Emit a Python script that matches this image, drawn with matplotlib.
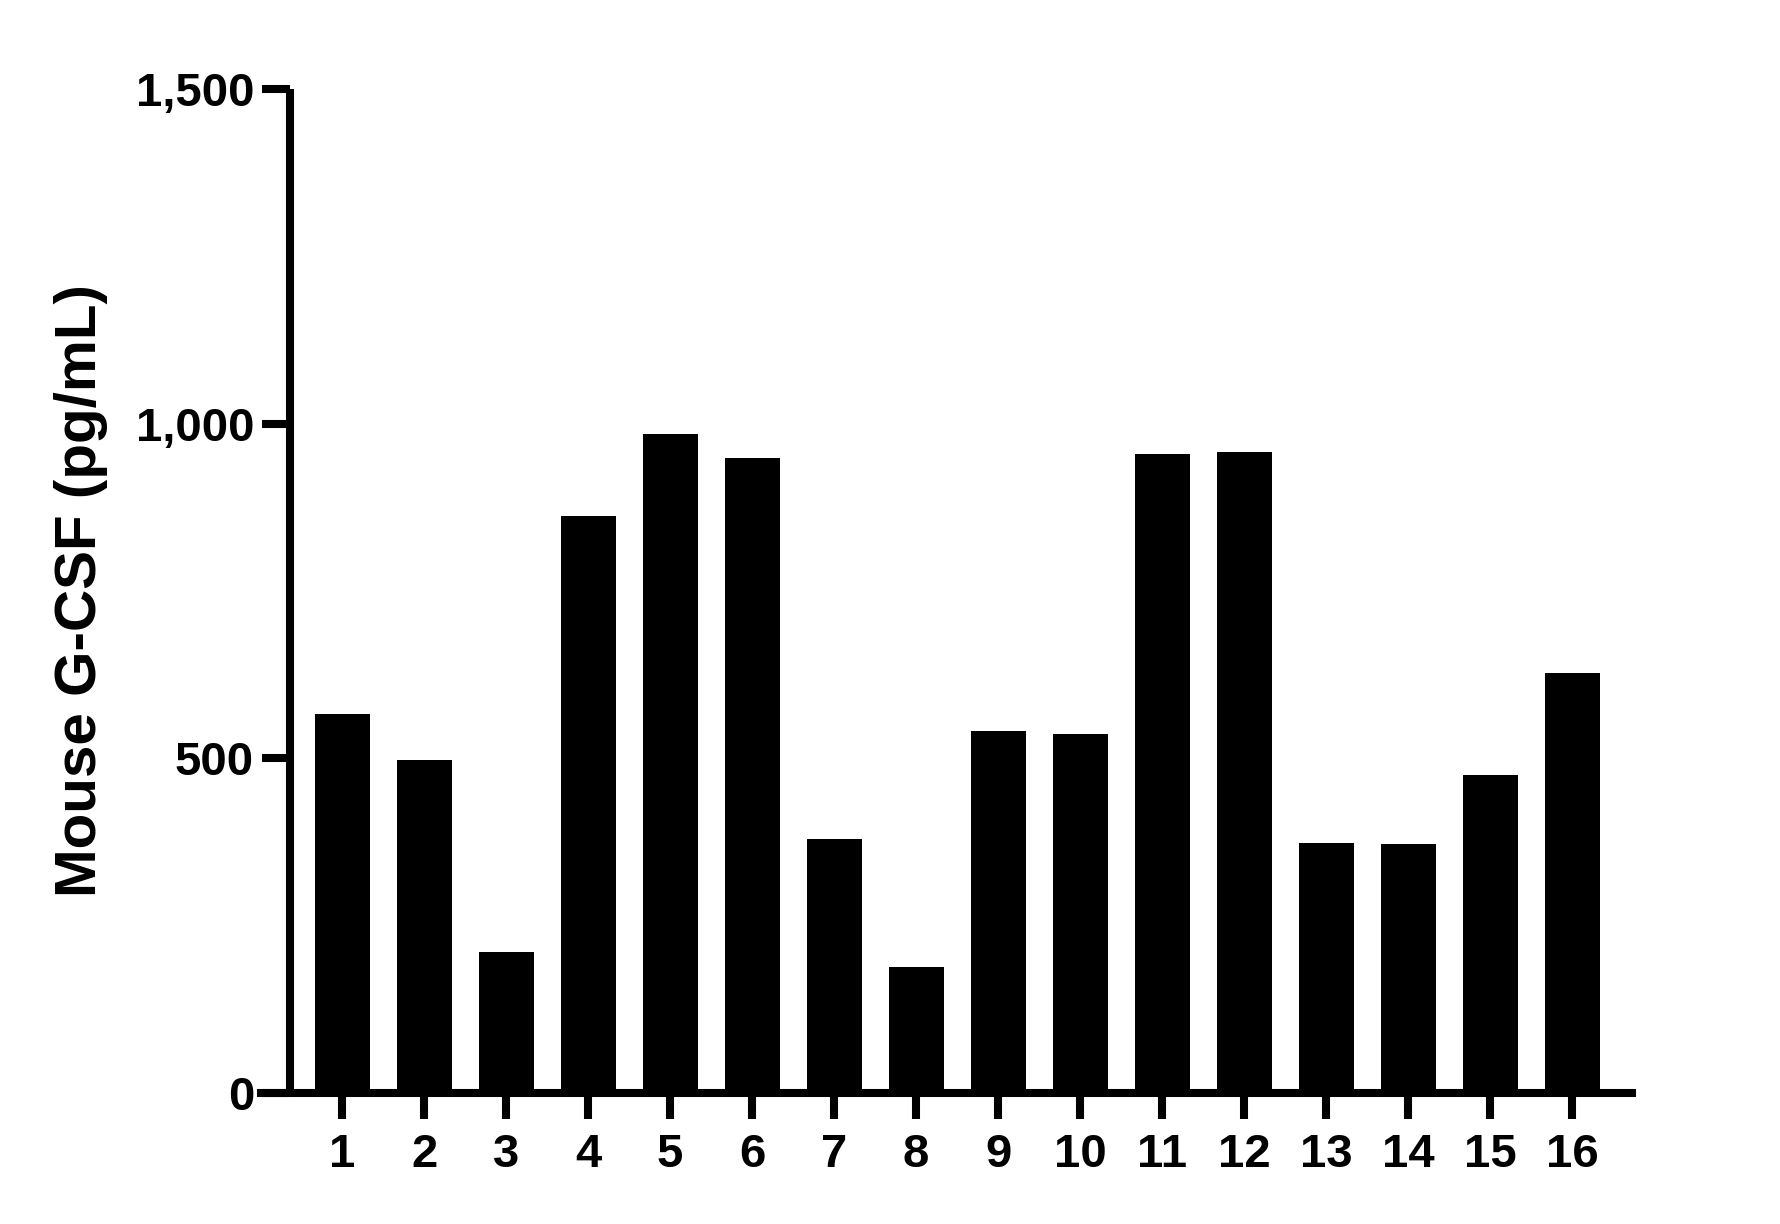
import matplotlib.pyplot as plt
from matplotlib.ticker import FuncFormatter

# ── DATA ──────────────────────────────────────────────────────────────────────
samples = [str(i) for i in range(1, 17)]
gcsf = [566, 497, 210, 862, 984, 948, 379, 188, 541, 536, 955, 958, 373, 372, 475, 628]
y_ticks = [0, 500, 1000, 1500]

plt.rcParams['font.family'] = ['Liberation Sans', 'DejaVu Sans']
plt.rcParams['font.weight'] = 'bold'

fig = plt.figure(figsize=(17.81, 12.24), dpi=100)
ax = fig.add_axes([0.1466, 0.107, 0.9163 - 0.1466, 0.9273 - 0.107])

x = list(range(1, len(samples) + 1))
ax.bar(x, gcsf, width=0.67, color='black', zorder=3)

ax.set_xlim(0.012, 16.73)
ax.set_ylim(0, 1500)

lw = 5.8
for side in ['top', 'right']:
    ax.spines[side].set_visible(False)
ax.spines['left'].set_position(('data', 0.366))
ax.spines['left'].set_linewidth(lw)
ax.spines['bottom'].set_linewidth(lw)
ax.spines['left'].set_capstyle('butt')

ax.set_xticks(x)
ax.set_xticklabels(samples)
ax.set_yticks(y_ticks)
ax.yaxis.set_major_formatter(FuncFormatter(lambda v, p: f"{int(v):,}"))

ax.tick_params(axis='y', direction='out', length=20, width=lw, labelsize=34, pad=6)
ax.tick_params(axis='x', direction='out', length=19, width=lw, labelsize=34, pad=10)
for lab in ax.get_xticklabels() + ax.get_yticklabels():
    lab.set_fontweight('bold')

ax.set_ylabel("Mouse G-CSF (pg/mL)", fontsize=42, fontweight='bold')
ax.yaxis.set_label_coords(108 / 1781, 0.5, transform=fig.transFigure)
ax.yaxis.label.set_y(1 - 591 / 1224)

fig.savefig("out.png", dpi=100)
